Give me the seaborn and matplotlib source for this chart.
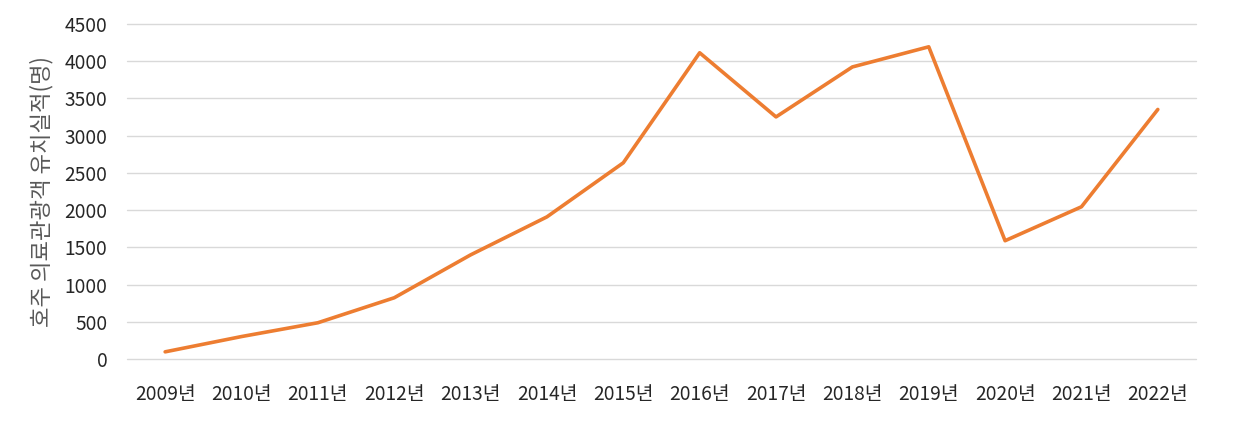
import matplotlib
matplotlib.use("Agg")
import matplotlib.pyplot as plt
import pandas as pd
import seaborn as sns

# 연도 및 유치실적
years = ['2009년', '2010년', '2011년', '2012년', '2013년', '2014년', '2015년',
         '2016년', '2017년', '2018년', '2019년', '2020년', '2021년', '2022년']
patients = [100, 305, 490, 825, 1400, 1910, 2635, 4110, 3250, 3920, 4190, 1590, 2045, 3350]
yticks = [0, 500, 1000, 1500, 2000, 2500, 3000, 3500, 4000, 4500]

df = pd.DataFrame({'year': years, 'value': patients})

sns.set_style('white')
plt.rcParams['font.family'] = ['Noto Sans CJK KR', 'DejaVu Sans']

fig = plt.figure(figsize=(12.34, 4.23), dpi=100)
ax = fig.add_axes([0.1029, 0.1506, 0.8663, 0.7934])

sns.lineplot(data=df, x='year', y='value', ax=ax, color='#ED7D31', linewidth=2.6, sort=False)

ax.set_xlim(-0.5, len(years) - 0.5)
ax.set_ylim(0, 4500)
ax.set_yticks(yticks)
ax.set_yticklabels([str(v) for v in yticks])
ax.yaxis.grid(True, color='#D9D9D9', linewidth=1)
for gl in ax.get_ygridlines():
    gl.set_clip_on(False)
ax.set_axisbelow(True)
for s in ax.spines.values():
    s.set_visible(False)
ax.tick_params(axis='both', length=0, labelsize=13.8, labelcolor='#262626')
ax.tick_params(axis='x', pad=18)
ax.tick_params(axis='y', pad=14)
ax.set_xlabel('')
ax.set_ylabel('호주 의료관광객 유치실적(명)', fontsize=16, color='#595959', labelpad=8)

fig.savefig('out.png', dpi=100)
